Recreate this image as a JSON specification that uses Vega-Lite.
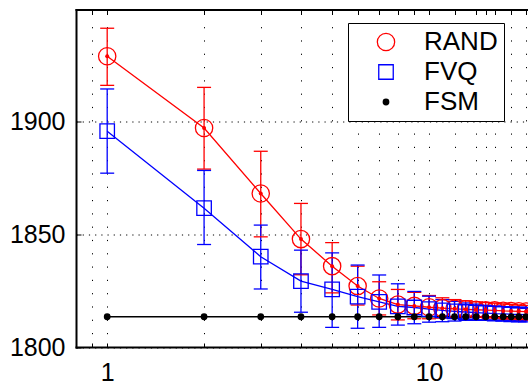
{
  "$schema": "https://vega.github.io/schema/vega-lite/v6.json",
  "autosize": {"type": "none"},
  "padding": {"left": 76, "top": 9.5, "right": 0, "bottom": 38},
  "width": 452,
  "height": 337.5,
  "background": "white",
  "data": {"values": [
    {"series": "RAND", "x": 1, "mean": 1928.8, "lo": 1915.9, "hi": 1941.2},
    {"series": "RAND", "x": 2, "mean": 1897.0, "lo": 1878.8, "hi": 1915.0},
    {"series": "RAND", "x": 3, "mean": 1868.0, "lo": 1848.8, "hi": 1886.7},
    {"series": "RAND", "x": 4, "mean": 1847.8, "lo": 1832.0, "hi": 1863.6},
    {"series": "RAND", "x": 5, "mean": 1835.8, "lo": 1824.0, "hi": 1846.2},
    {"series": "RAND", "x": 6, "mean": 1827.0, "lo": 1818.6, "hi": 1835.8},
    {"series": "RAND", "x": 7, "mean": 1821.5, "lo": 1814.2, "hi": 1828.9},
    {"series": "RAND", "x": 8, "mean": 1818.8, "lo": 1812.0, "hi": 1825.5},
    {"series": "RAND", "x": 9, "mean": 1818.2, "lo": 1812.5, "hi": 1824.2},
    {"series": "RAND", "x": 10, "mean": 1817.6, "lo": 1812.5, "hi": 1822.8},
    {"series": "RAND", "x": 11, "mean": 1817.2, "lo": 1812.8, "hi": 1821.8},
    {"series": "RAND", "x": 12, "mean": 1816.9, "lo": 1813.0, "hi": 1821.0},
    {"series": "RAND", "x": 13, "mean": 1816.7, "lo": 1813.2, "hi": 1820.5},
    {"series": "RAND", "x": 14, "mean": 1816.5, "lo": 1813.2, "hi": 1820.0},
    {"series": "RAND", "x": 15, "mean": 1816.3, "lo": 1813.2, "hi": 1819.7},
    {"series": "RAND", "x": 16, "mean": 1816.2, "lo": 1813.2, "hi": 1819.4},
    {"series": "RAND", "x": 17, "mean": 1816.0, "lo": 1813.1, "hi": 1819.1},
    {"series": "RAND", "x": 18, "mean": 1815.9, "lo": 1813.1, "hi": 1818.9},
    {"series": "RAND", "x": 19, "mean": 1815.8, "lo": 1813.1, "hi": 1818.6},
    {"series": "RAND", "x": 20, "mean": 1815.7, "lo": 1813.0, "hi": 1818.4},
    {"series": "FVQ", "x": 1, "mean": 1895.6, "lo": 1877.0, "hi": 1914.3},
    {"series": "FVQ", "x": 2, "mean": 1861.5, "lo": 1845.4, "hi": 1878.2},
    {"series": "FVQ", "x": 3, "mean": 1840.0, "lo": 1825.7, "hi": 1854.0},
    {"series": "FVQ", "x": 4, "mean": 1829.2, "lo": 1815.4, "hi": 1842.9},
    {"series": "FVQ", "x": 5, "mean": 1825.5, "lo": 1808.7, "hi": 1841.7},
    {"series": "FVQ", "x": 6, "mean": 1822.3, "lo": 1808.3, "hi": 1836.3},
    {"series": "FVQ", "x": 7, "mean": 1820.0, "lo": 1808.7, "hi": 1831.9},
    {"series": "FVQ", "x": 8, "mean": 1818.0, "lo": 1809.7, "hi": 1828.0},
    {"series": "FVQ", "x": 9, "mean": 1817.5, "lo": 1810.3, "hi": 1824.6},
    {"series": "FVQ", "x": 10, "mean": 1816.8, "lo": 1811.0, "hi": 1822.5},
    {"series": "FVQ", "x": 11, "mean": 1816.2, "lo": 1811.2, "hi": 1821.0},
    {"series": "FVQ", "x": 12, "mean": 1815.8, "lo": 1811.5, "hi": 1820.2},
    {"series": "FVQ", "x": 13, "mean": 1815.5, "lo": 1811.8, "hi": 1819.5},
    {"series": "FVQ", "x": 14, "mean": 1815.2, "lo": 1811.8, "hi": 1819.0},
    {"series": "FVQ", "x": 15, "mean": 1815.0, "lo": 1811.9, "hi": 1818.5},
    {"series": "FVQ", "x": 16, "mean": 1814.8, "lo": 1811.9, "hi": 1818.2},
    {"series": "FVQ", "x": 17, "mean": 1814.7, "lo": 1811.9, "hi": 1817.9},
    {"series": "FVQ", "x": 18, "mean": 1814.5, "lo": 1811.9, "hi": 1817.6},
    {"series": "FVQ", "x": 19, "mean": 1814.4, "lo": 1811.8, "hi": 1817.3},
    {"series": "FVQ", "x": 20, "mean": 1814.3, "lo": 1811.8, "hi": 1817.1},
    {"series": "FSM", "x": 1, "mean": 1813.4},
    {"series": "FSM", "x": 2, "mean": 1813.4},
    {"series": "FSM", "x": 3, "mean": 1813.4},
    {"series": "FSM", "x": 4, "mean": 1813.4},
    {"series": "FSM", "x": 5, "mean": 1813.4},
    {"series": "FSM", "x": 6, "mean": 1813.4},
    {"series": "FSM", "x": 7, "mean": 1813.4},
    {"series": "FSM", "x": 8, "mean": 1813.4},
    {"series": "FSM", "x": 9, "mean": 1813.4},
    {"series": "FSM", "x": 10, "mean": 1813.4},
    {"series": "FSM", "x": 11, "mean": 1813.4},
    {"series": "FSM", "x": 12, "mean": 1813.4},
    {"series": "FSM", "x": 13, "mean": 1813.4},
    {"series": "FSM", "x": 14, "mean": 1813.4},
    {"series": "FSM", "x": 15, "mean": 1813.4},
    {"series": "FSM", "x": 16, "mean": 1813.4},
    {"series": "FSM", "x": 17, "mean": 1813.4},
    {"series": "FSM", "x": 18, "mean": 1813.4},
    {"series": "FSM", "x": 19, "mean": 1813.4},
    {"series": "FSM", "x": 20, "mean": 1813.4}
  ]},
  "resolve": {"axis": {"x": "independent", "y": "independent"}},
  "layer": [
    {
      "transform": [{"filter": "isValid(datum.lo)"}],
      "mark": {"type": "rule", "strokeWidth": 1.3},
      "encoding": {
        "x": {"field": "x", "type": "quantitative",
          "scale": {"type": "log", "domain": [0.8, 20.3], "nice": false},
          "axis": {"orient": "bottom", "title": null,
            "values": [0.9, 1, 2, 3, 4, 5, 6, 7, 8, 9, 10, 12, 14, 15, 16, 18, 20],
            "labelExpr": "datum.value == 1 ? '1' : datum.value == 10 ? '10' : ''",
            "labelOverlap": false, "labelFlush": false,
            "tickSize": -4, "labelPadding": 17, "grid": false}},
        "y": {"field": "lo", "type": "quantitative",
          "scale": {"domain": [1800, 1949.5], "nice": false, "zero": false},
          "axis": {"orient": "left", "title": null, "values": [1800, 1850, 1900], "format": "d",
            "tickSize": -5, "labelPadding": 16, "grid": true, "gridDash": [1.2, 5]}},
        "y2": {"field": "hi"},
        "color": {"condition": {"test": "datum.series == 'RAND'", "value": "#ff0000"}, "value": "#0000ff"}
      }
    },
    {
      "transform": [{"filter": "isValid(datum.lo)"}],
      "mark": {"type": "tick", "orient": "horizontal", "size": 14, "thickness": 1.3, "opacity": 1},
      "encoding": {
        "x": {"field": "x", "type": "quantitative", "axis": null},
        "y": {"field": "lo", "type": "quantitative", "axis": null},
        "color": {"condition": {"test": "datum.series == 'RAND'", "value": "#ff0000"}, "value": "#0000ff"}
      }
    },
    {
      "transform": [{"filter": "isValid(datum.hi)"}],
      "mark": {"type": "tick", "orient": "horizontal", "size": 14, "thickness": 1.3, "opacity": 1},
      "encoding": {
        "x": {"field": "x", "type": "quantitative", "axis": null},
        "y": {"field": "hi", "type": "quantitative", "axis": null},
        "color": {"condition": {"test": "datum.series == 'RAND'", "value": "#ff0000"}, "value": "#0000ff"}
      }
    },
    {
      "mark": {"type": "line", "strokeWidth": 1.3},
      "encoding": {
        "x": {"field": "x", "type": "quantitative", "axis": null},
        "y": {"field": "mean", "type": "quantitative", "axis": null},
        "detail": {"field": "series", "type": "nominal"},
        "color": {"condition": [{"test": "datum.series == 'RAND'", "value": "#ff0000"}, {"test": "datum.series == 'FVQ'", "value": "#0000ff"}], "value": "#000000"}
      }
    },
    {
      "mark": {"type": "point", "strokeWidth": 1.3, "opacity": 1, "filled": false},
      "encoding": {
        "x": {"field": "x", "type": "quantitative",
          "axis": {"orient": "top", "title": null, "labels": false,
            "values": [0.9, 1, 2, 3, 4, 5, 6, 7, 8, 9, 10, 12, 14, 15, 16, 18, 20],
            "tickSize": -4, "grid": true, "gridDash": [1.2, 12.1]}},
        "y": {"field": "mean", "type": "quantitative", "axis": null},
        "stroke": {"field": "series", "type": "nominal",
          "scale": {"domain": ["RAND", "FVQ", "FSM"], "range": ["#ff0000", "#0000ff", "#000000"]},
          "legend": {"orient": "none", "legendX": 272, "legendY": 13.5, "title": null,
            "labelFont": "Liberation Sans", "labelFontSize": 26, "labelColor": "black",
            "labelExpr": "datum.label + '\u00a0'",
            "strokeColor": "black", "fillColor": "white", "padding": 6, "rowPadding": 4,
            "symbolOffset": 19, "labelOffset": 25, "symbolStrokeWidth": 1.3}},
        "fill": {"field": "series", "type": "nominal",
          "scale": {"domain": ["RAND", "FVQ", "FSM"], "range": ["transparent", "transparent", "#000000"]}},
        "shape": {"field": "series", "type": "nominal",
          "scale": {"domain": ["RAND", "FVQ", "FSM"], "range": ["circle", "square", "circle"]}},
        "size": {"field": "series", "type": "nominal",
          "scale": {"type": "ordinal", "domain": ["RAND", "FVQ", "FSM"], "range": [300, 210, 30]}}
      }
    },
    {
      "transform": [{"filter": "datum.series == 'RAND'"}],
      "mark": {"type": "circle", "size": 16, "color": "#ff0000", "opacity": 1},
      "encoding": {
        "x": {"field": "x", "type": "quantitative", "axis": null},
        "y": {"field": "mean", "type": "quantitative", "axis": null}
      }
    }
  ],
  "config": {
    "view": {"stroke": null},
    "axis": {
      "labelFont": "Liberation Sans", "labelFontSize": 25, "labelColor": "black",
      "domainColor": "black", "domainWidth": 2, "domainCap": "square",
      "tickColor": "black", "tickWidth": 1,
      "gridColor": "black", "gridOpacity": 1, "gridWidth": 1
    }
  }
}
